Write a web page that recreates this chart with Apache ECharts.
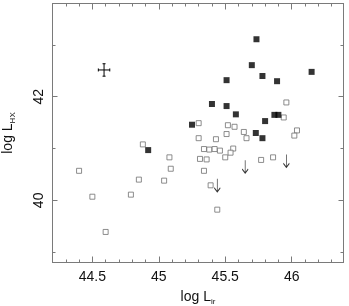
<!DOCTYPE html>
<html><head><meta charset="utf-8">
<script src="https://cdn.jsdelivr.net/npm/echarts@6/dist/echarts.min.js"></script>
<style>html,body{margin:0;padding:0;background:#fff}#c{width:349px;height:306px}</style>
</head><body><div id="c"></div>
<script>
const xMajorTicks = [44.5, 45, 45.5, 46];
const xMinorTicks = [44.3,44.4,44.6,44.7,44.8,44.9,45.1,45.2,45.3,45.4,45.6,45.7,45.8,45.9,46.1,46.2,46.3];
const yMajorTicks = [40, 42];
const yMinorTicks = [39, 41, 43];

// filled squares [log L_ir, log L_HX]
const detected = [
  [45.735, 43.11], [45.70, 42.61], [45.51, 42.32], [45.78, 42.40], [45.89, 42.30],
  [46.15, 42.48], [45.40, 41.86], [45.51, 41.82], [45.58, 41.66], [45.25, 41.46],
  [45.87, 41.65], [45.90, 41.65], [45.80, 41.53], [45.73, 41.30], [45.78, 41.20],
  [44.92, 40.97]
];
// open squares
const undetected = [
  [45.96, 41.89], [45.30, 41.49], [45.94, 41.60], [45.52, 41.45], [45.57, 41.42],
  [45.64, 41.32], [45.51, 41.28], [46.04, 41.35], [46.02, 41.25], [45.30, 41.20],
  [45.43, 41.18], [45.66, 41.20], [45.34, 40.99], [45.38, 40.98], [45.42, 40.99],
  [45.46, 40.96], [45.56, 41.00], [45.54, 40.92], [45.08, 40.83], [45.31, 40.80],
  [45.36, 40.79], [45.50, 40.83], [45.77, 40.78], [45.86, 40.83], [45.09, 40.61],
  [45.34, 40.57], [45.04, 40.38], [45.39, 40.29], [45.44, 39.82], [44.88, 41.08],
  [44.40, 40.57], [44.85, 40.40], [44.50, 40.07], [44.79, 40.11], [44.60, 39.39]
];
// upper limits (arrows)
const upperLimits = [[45.44, 40.29], [45.65, 40.65], [45.96, 40.76]];
// typical error bar [x, y, dx, dy]
const errorBar = [[44.588, 42.517, 0.043, 0.12]];

const axisColor = '#7a7a7a';
const labelFont = {fontFamily: 'Liberation Sans, Arial, sans-serif', fontSize: 14, color: '#111'};

function xAx(pos, ticks, len, labels, main) {
  return {
    type: 'value', position: pos, min: 44.2, max: 46.39, gridIndex: 0,
    axisLine: {show: main, lineStyle: {color: axisColor, width: 1}},
    axisTick: {show: true, inside: true, length: len, customValues: ticks, lineStyle: {color: axisColor}},
    axisLabel: labels ? Object.assign({customValues: ticks, margin: 8}, labelFont) : {show: false},
    splitLine: {show: false}
  };
}
function yAx(pos, ticks, len, labels, main) {
  return {
    type: 'value', position: pos, min: 38.8, max: 43.8, gridIndex: 0,
    axisLine: {show: main, lineStyle: {color: axisColor, width: 1}},
    axisTick: {show: true, inside: true, length: len, customValues: ticks, lineStyle: {color: axisColor}},
    axisLabel: labels ? Object.assign({customValues: ticks, rotate: 90, margin: 6}, labelFont) : {show: false},
    splitLine: {show: false}
  };
}

const xMain = xAx('bottom', xMajorTicks, 6, true, true);
xMain.name = 'log L{s|ir}';
xMain.nameLocation = 'middle';
xMain.nameGap = 21;
xMain.nameTextStyle = {fontFamily: labelFont.fontFamily, fontSize: 14, color: '#111', lineHeight: 16,
  rich: {s: {fontFamily: labelFont.fontFamily, fontSize: 8, lineHeight: 8, verticalAlign: 'bottom', color: '#111'}}};
const yMain = yAx('left', yMajorTicks, 5, true, true);
yMain.name = 'log L{s|HX}';
yMain.nameLocation = 'middle';
yMain.nameGap = 36;
yMain.nameTextStyle = {fontFamily: labelFont.fontFamily, fontSize: 14, color: '#111', lineHeight: 16,
  rich: {s: {fontFamily: labelFont.fontFamily, fontSize: 8, lineHeight: 8, verticalAlign: 'bottom', color: '#111'}}};

const option = {
  animation: false,
  backgroundColor: '#fff',
  grid: {left: 52.5, right: 5.5, top: 3.5, bottom: 43.5, containLabel: false, outerBoundsMode: 'none'},
  xAxis: [
    xMain,
    xAx('bottom', xMinorTicks, 3, false, false),
    xAx('top', xMajorTicks, 6, false, true),
    xAx('top', xMinorTicks, 3, false, false)
  ],
  yAxis: [
    yMain,
    yAx('left', yMinorTicks, 3, false, false),
    yAx('right', yMajorTicks, 5, false, true),
    yAx('right', yMinorTicks, 3, false, false)
  ],
  series: [
    {
      type: 'scatter', data: undetected, symbol: 'rect', symbolSize: 5,
      itemStyle: {color: '#fff', borderColor: '#707070', borderWidth: 1}
    },
    {
      type: 'scatter', data: detected, symbol: 'rect', symbolSize: 6,
      itemStyle: {color: '#000'}
    },
    {
      type: 'scatter', data: upperLimits,
      symbol: 'path://M3,0 L3,13 M0,9 L3,13 L6,9', symbolSize: [6, 13],
      itemStyle: {color: 'none', borderColor: '#000', borderWidth: 1}
    },
    {
      type: 'custom', data: errorBar,
      renderItem: function (params, api) {
        const x = api.value(0), y = api.value(1), dx = api.value(2), dy = api.value(3);
        const l = api.coord([x - dx, y]), r = api.coord([x + dx, y]);
        const t = api.coord([x, y + dy]), b = api.coord([x, y - dy]);
        const c = 1.5, st = {stroke: '#000', lineWidth: 1};
        return {type: 'group', children: [
          {type: 'line', shape: {x1: l[0], y1: l[1], x2: r[0], y2: r[1]}, style: st},
          {type: 'line', shape: {x1: t[0], y1: t[1], x2: b[0], y2: b[1]}, style: st},
          {type: 'line', shape: {x1: l[0], y1: l[1] - c, x2: l[0], y2: l[1] + c}, style: st},
          {type: 'line', shape: {x1: r[0], y1: r[1] - c, x2: r[0], y2: r[1] + c}, style: st},
          {type: 'line', shape: {x1: t[0] - c, y1: t[1], x2: t[0] + c, y2: t[1]}, style: st},
          {type: 'line', shape: {x1: b[0] - c, y1: b[1], x2: b[0] + c, y2: b[1]}, style: st}
        ]};
      }
    }
  ]
};
const chart = echarts.init(document.getElementById('c'), null, {renderer: 'canvas'});
chart.setOption(option);
</script>
</body></html>
